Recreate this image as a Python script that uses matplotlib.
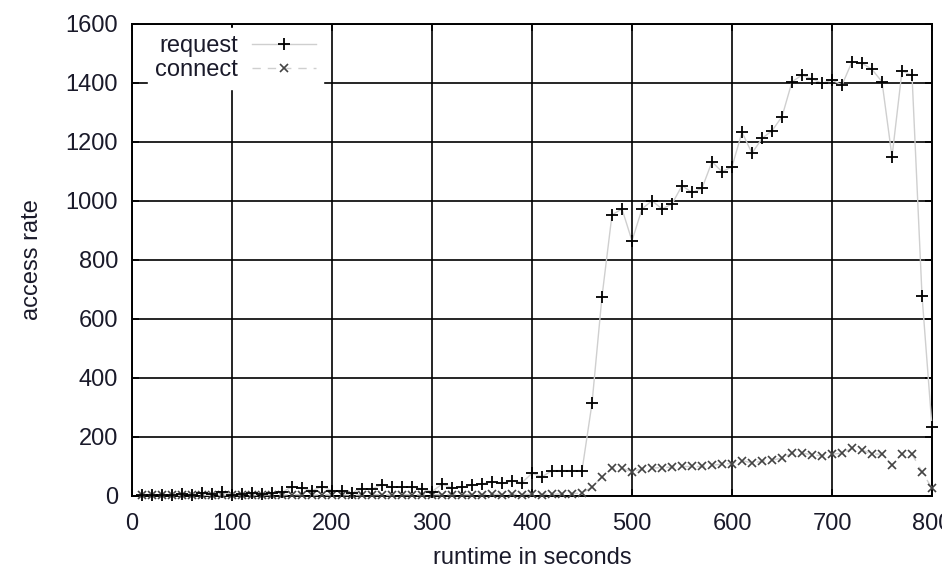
import matplotlib.pyplot as plt

plt.rcParams['font.family'] = ['Liberation Sans', 'DejaVu Sans']

# sampling times (s)
runtime = [10, 20, 30, 40, 50, 60, 70, 80, 90, 100,
           110, 120, 130, 140, 150, 160, 170, 180, 190, 200,
           210, 220, 230, 240, 250, 260, 270, 280, 290, 300,
           310, 320, 330, 340, 350, 360, 370, 380, 390, 400,
           410, 420, 430, 440, 450, 460, 470, 480, 490, 500,
           510, 520, 530, 540, 550, 560, 570, 580, 590, 600,
           610, 620, 630, 640, 650, 660, 670, 680, 690, 700,
           710, 720, 730, 740, 750, 760, 770, 780, 790, 800]

request = [5, 5, 4, 5, 8, 5, 10, 8, 12, 5,
           8, 10, 8, 10, 12, 32, 27, 18, 32, 18,
           18, 10, 24, 24, 38, 30, 30, 30, 24, 15,
           40, 28, 29, 37, 41, 48, 43, 51, 45, 77,
           65, 86, 86, 86, 86, 314, 676, 953, 973, 865,
           973, 1001, 973, 990, 1052, 1029, 1043, 1133, 1099, 1116,
           1233, 1162, 1212, 1238, 1286, 1404, 1427, 1414, 1399, 1410,
           1393, 1472, 1467, 1446, 1404, 1150, 1441, 1426, 679, 233]

connect = [3, 2, 3, 2, 3, 4, 3, 2, 3, 3,
           4, 3, 3, 4, 3, 5, 4, 3, 4, 3,
           4, 3, 4, 5, 4, 3, 5, 4, 4, 5,
           4, 5, 5, 4, 5, 6, 5, 6, 5, 6,
           5, 6, 7, 8, 10, 30, 65, 94, 94, 82,
           92, 95, 96, 98, 100, 100, 100, 104, 108, 110,
           120, 112, 118, 122, 128, 145, 145, 140, 136, 142,
           145, 162, 156, 142, 142, 105, 142, 142, 82, 26]

xticks = [0, 100, 200, 300, 400, 500, 600, 700, 800]
yticks = [0, 200, 400, 600, 800, 1000, 1200, 1400, 1600]

fig = plt.figure(figsize=(9.42, 5.78), dpi=100)
ax = fig.add_axes([0.1401, 0.1419, 0.8493, 0.8166])

ax.plot(runtime, request, color='#cfcfcf', lw=1.0, marker='+', ms=8,
        mec='black', mew=1.3, label='request', clip_on=False, zorder=4)
ax.plot(runtime, connect, color='#cfcfcf', lw=1.0, ls=(0, (6, 5)), marker='x',
        ms=6, mec='#444444', mew=1.2, label='connect', clip_on=False, zorder=3)

ax.set_xlim(0, 800)
ax.set_ylim(0, 1600)
ax.set_xticks(xticks)
ax.set_yticks(yticks)
ax.grid(True, color='black', lw=1.2)
ax.set_axisbelow(True)
ax.tick_params(direction='in', length=5, width=1.2, labelsize=17,
               top=True, right=True, labelcolor='#1a1a2a')
ax.tick_params(axis='x', pad=12)
ax.tick_params(axis='y', pad=10)
for s in ax.spines.values():
    s.set_linewidth(1.4)

ax.set_xlabel('runtime in seconds', fontsize=17, labelpad=9, color='#1a1a2a')
ax.set_ylabel('access rate', fontsize=17, labelpad=16, color='#1a1a2a')

leg = ax.legend(loc='upper left', bbox_to_anchor=(0.02, 0.9915),
                markerfirst=False, fontsize=17, frameon=True, fancybox=False,
                framealpha=1, edgecolor='white', borderpad=0.3,
                handlelength=2.7, labelspacing=0.1, borderaxespad=0,
                handletextpad=0.6)
leg.set_zorder(5)
for t in leg.get_texts():
    t.set_color('#1a1a2a')

fig.savefig('out.png', dpi=100)
